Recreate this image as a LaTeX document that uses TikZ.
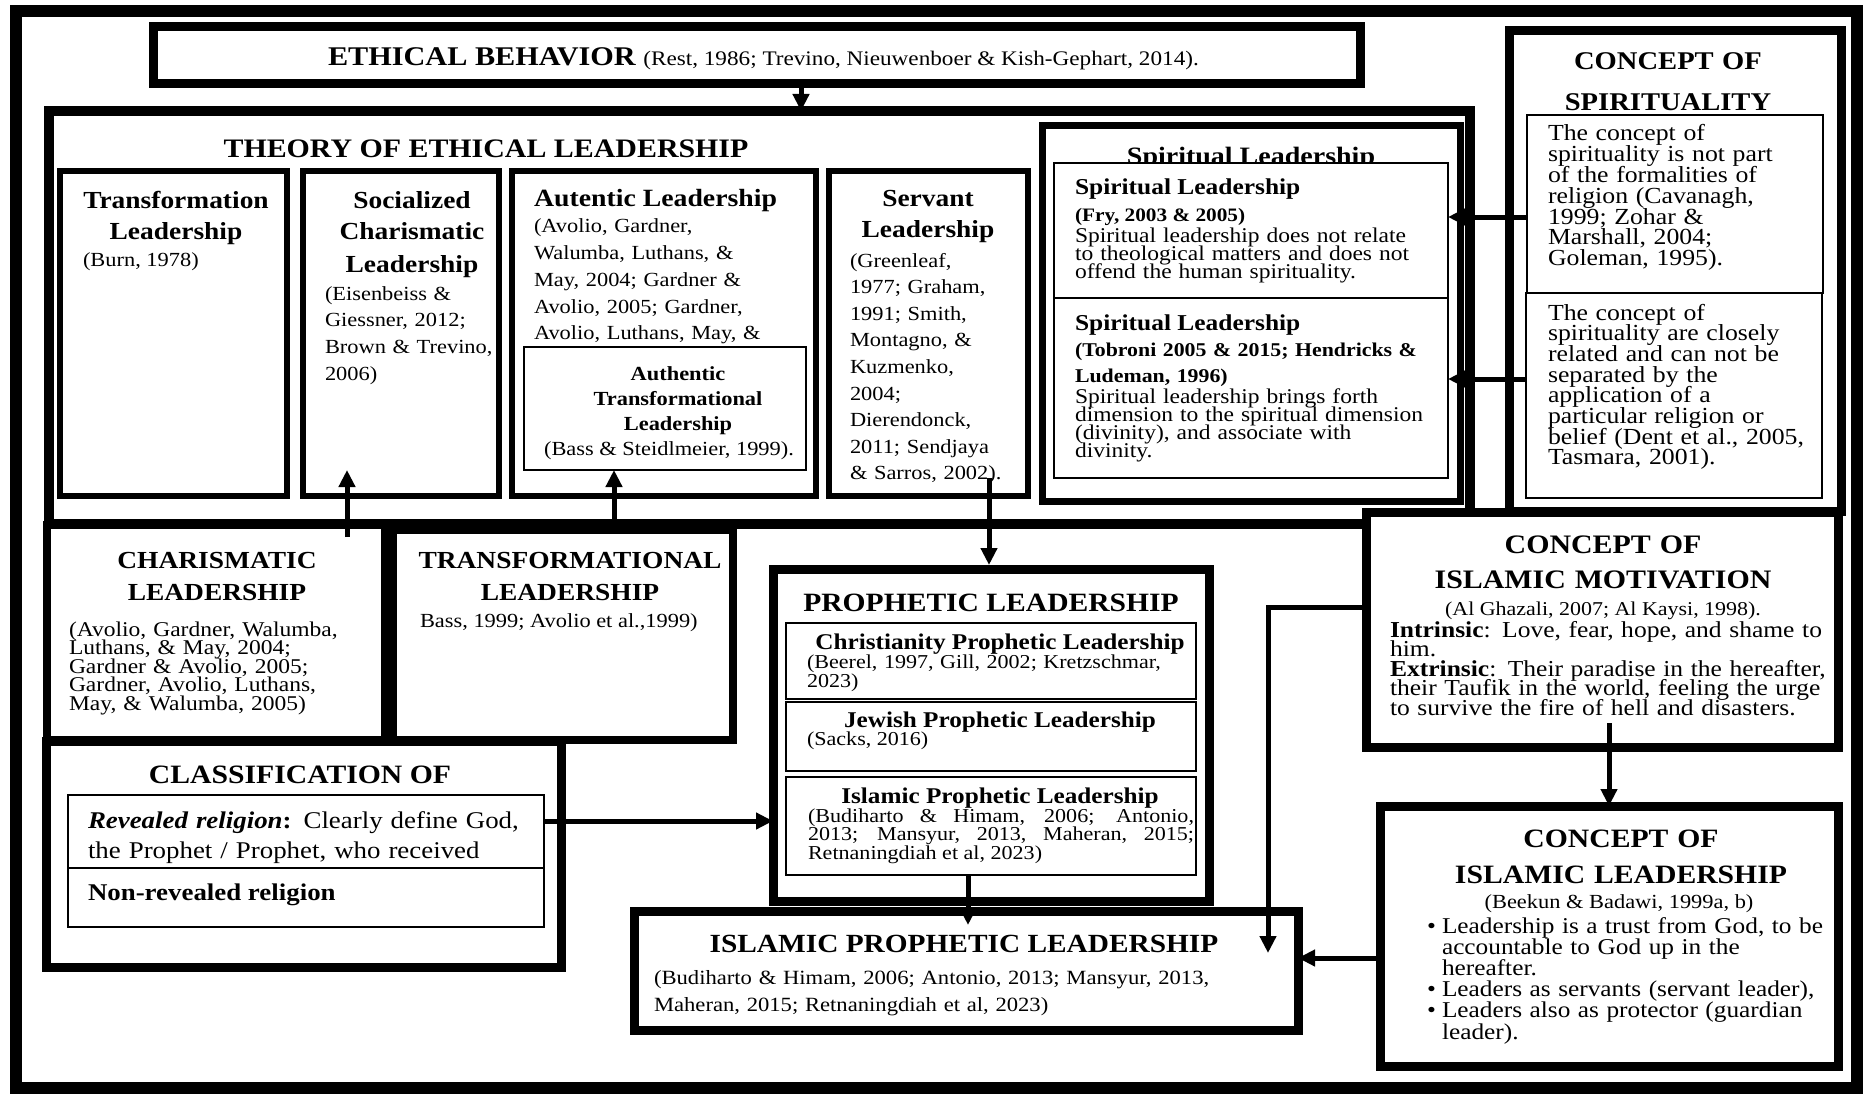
\documentclass[tikz,border=0pt]{standalone}
\usepackage{fontspec}
\setmainfont{Liberation Serif}[FakeStretch=1.12]
\usetikzlibrary{fit,arrows.meta}
\newcommand\fz[2]{\fontsize{#1}{#2}\selectfont\lineskiplimit=-100pt\lineskip=0pt\relax}
\tikzset{
  boxbase/.style={draw, fill=white, inner sep=0pt, outer sep=0pt, line join=miter},
  bigbox/.style={boxbase, line width=9pt},
  midbox/.style={boxbase, line width=6pt},
  thinbox/.style={boxbase, line width=2pt},
  framebox/.style={draw, inner sep=0pt, outer sep=0pt, line width=12pt},
  txt/.style={inner sep=0pt, outer sep=0pt, text=black},
  arr/.style={line width=5pt, -{Triangle[length=17pt,width=16pt]}, line join=miter},
}
\begin{document}
\begin{tikzpicture}[x=1pt,y=-1pt]
\fill[white] (0,0) rectangle (1865,1094);
\useasboundingbox (0,0) rectangle (1865,1094);
\node[framebox, fit={(16,11) (1857,1088)}] (frame) {};

% ---------- Ethical behaviour
\node[bigbox, fit={(153,27) (1360,84)}] (eth) {};
\node[txt, anchor=base west] (t1) at (328,66) {{\fz{27}{30}\bfseries ETHICAL BEHAVIOR }{\fz{20.7}{24}(Rest, 1986; Trevino, Nieuwenboer \& Kish-Gephart, 2014).}};

% ---------- Theory of ethical leadership
\node[boxbase, line width=10pt, fit={(49,111) (1470,524)}] (theory) {};
\node[txt, anchor=base, font={\fz{26.7}{30}\bfseries}] (t2) at (486,158) {THEORY OF ETHICAL LEADERSHIP};

\node[midbox, fit={(60,171) (287,496)}] (tl) {};
\node[txt, anchor=base, text width=220pt, align=center, font={\fz{24.5}{32}\bfseries}] (t3) at (176,208) {Transformation\\Leadership};
\node[txt, anchor=base west, font={\fz{20}{24}}] (t4) at (83,266) {(Burn, 1978)};

\node[midbox, fit={(303,171) (499,496)}] (scl) {};
\node[txt, anchor=base, text width=190pt, align=center, font={\fz{24.5}{32}\bfseries}] (t5) at (412,208) {Socialized\\Charismatic\\Leadership};
\node[txt, anchor=base west, text width=200pt, align=left, font={\fz{20}{26.7}}] (t6) at (325,300) {(Eisenbeiss \&\\Giessner, 2012;\\Brown \& Trevino,\\2006)};

\node[midbox, fit={(512,171) (816,496)}] (al) {};
\node[txt, anchor=base west, font={\fz{24.8}{30}\bfseries}] (t7) at (534,207) {Autentic Leadership};
\node[txt, anchor=base west, text width=300pt, align=left, font={\fz{20}{26.75}}] (t8) at (534,233) {(Avolio, Gardner,\\Walumba, Luthans, \&\\May, 2004; Gardner \&\\Avolio, 2005; Gardner,\\Avolio, Luthans, May, \&};
\node[thinbox, fit={(524,347) (806,470)}] (atl) {};
\node[txt, anchor=base, text width=270pt, align=center, font={\fz{20}{25}\bfseries}] (t9) at (678,380) {Authentic\\Transformational\\Leadership};
\node[txt, anchor=base, font={\fz{20}{24}}] (t10) at (669,455) {(Bass \& Steidlmeier, 1999).};

\node[midbox, fit={(829,171) (1028,496)}] (sv) {};
\node[txt, anchor=base, text width=190pt, align=center, font={\fz{24.5}{31}\bfseries}] (t11) at (928,207) {Servant\\Leadership};
\node[txt, anchor=base west, text width=190pt, align=left, font={\fz{20}{26.6}}] (t12) at (850,267) {(Greenleaf,\\1977; Graham,\\1991; Smith,\\Montagno, \&\\Kuzmenko,\\2004;\\Dierendonck,\\2011; Sendjaya\\\& Sarros, 2002).};

% ---------- Spiritual leadership
\node[boxbase, line width=7pt, fit={(1042,126) (1460,501)}] (spl) {};
\node[txt, anchor=base, font={\fz{25}{30}\bfseries}] (t13) at (1251,165) {Spiritual Leadership};
\node[thinbox, fit={(1054,163) (1448,298)}] (sl1) {};
\node[thinbox, fit={(1054,298) (1448,478)}] (sl2) {};
\node[txt, anchor=base west, font={\fz{22.7}{26}\bfseries}] (t14) at (1075,195) {Spiritual Leadership};
\node[txt, anchor=base west, font={\fz{19}{22}\bfseries}] (t15) at (1075,222) {(Fry, 2003 \& 2005)};
\node[txt, anchor=base west, text width=380pt, align=left, font={\fz{21}{18.2}}] (t16) at (1075,242) {Spiritual leadership does not relate\\to theological matters and does not\\offend the human spirituality.};
\node[txt, anchor=base west, font={\fz{22.7}{26}\bfseries}] (t17) at (1075,330) {Spiritual Leadership};
\node[txt, anchor=base west, text width=380pt, align=left, font={\fz{19.5}{26}\bfseries}] (t18) at (1075,356) {(Tobroni 2005 \& 2015; Hendricks \&\\Ludeman, 1996)};
\node[txt, anchor=base west, text width=380pt, align=left, font={\fz{21}{18}}] (t19) at (1075,403) {Spiritual leadership brings forth\\dimension to the spiritual dimension\\(divinity), and associate with\\divinity.};

% ---------- Concept of spirituality
\node[bigbox, fit={(1509,31) (1841,511)}] (cs) {};
\node[txt, anchor=base, text width=320pt, align=center, font={\fz{25.5}{41}\bfseries}] (t20) at (1668,70) {CONCEPT OF\\SPIRITUALITY};
\node[thinbox, fit={(1527,115) (1823,293)}] (spA) {};
\node[thinbox, fit={(1526,293) (1822,498)}] (spB) {};
\node[txt, anchor=base west, text width=300pt, align=left, font={\fz{23}{20.8}}] (t21) at (1548,141) {The concept of\\spirituality is not part\\of the formalities of\\religion (Cavanagh,\\1999; Zohar \&\\Marshall, 2004;\\Goleman, 1995).};
\node[txt, anchor=base west, text width=300pt, align=left, font={\fz{23}{20.7}}] (t22) at (1548,320) {The concept of\\spirituality are closely\\related and can not be\\separated by the\\application of a\\particular religion or\\belief (Dent et al., 2005,\\Tasmara, 2001).};

% ---------- Charismatic / Transformational
\node[boxbase, line width=8pt, fit={(47,525) (385,740)}] (ch) {};
\node[txt, anchor=base, text width=330pt, align=center, font={\fz{24.5}{32}\bfseries}] (t23) at (217,568) {CHARISMATIC\\LEADERSHIP};
\node[txt, anchor=base west, text width=320pt, align=left, font={\fz{21}{18.5}}] (t24) at (69,636) {(Avolio, Gardner, Walumba,\\Luthans, \& May, 2004;\\Gardner \& Avolio, 2005;\\Gardner, Avolio, Luthans,\\May, \& Walumba, 2005)};
\node[boxbase, line width=8pt, fit={(393,530) (733,740)}] (tr) {};
\node[txt, anchor=base, text width=340pt, align=center, font={\fz{24.5}{32}\bfseries}] (t25) at (570,568) {TRANSFORMATIONAL\\LEADERSHIP};
\node[txt, anchor=base west, font={\fz{20}{24}}] (t26) at (420,627) {Bass, 1999; Avolio et al.,1999)};

% ---------- Classification
\node[bigbox, fit={(46,741) (561,967)}] (cl) {};
\node[txt, anchor=base, font={\fz{26.5}{30}\bfseries}] (t27) at (300,783) {CLASSIFICATION OF};
\node[thinbox, fit={(68,795) (544,868)}] (rev) {};
\node[thinbox, fit={(68,868) (544,927)}] (nrev) {};
\node[txt, anchor=base west, text width=470pt, align=left, font={\fz{24}{30}}] (t28) at (88,828) {\textbf{\textit{Revealed religion}:} Clearly define God,\\the Prophet / Prophet, who received};
\node[txt, anchor=base west, font={\fz{24}{30}\bfseries}] (t29) at (88,900) {Non-revealed religion};

% ---------- Prophetic leadership
\node[bigbox, fit={(773,569) (1209,901)}] (pr) {};
\node[txt, anchor=base, font={\fz{26.4}{30}\bfseries}] (t30) at (991,611) {PROPHETIC LEADERSHIP};
\node[boxbase, line width=2.5pt, fit={(786,623) (1196,699)}] (ip1) {};
\node[boxbase, line width=2.5pt, fit={(786,702) (1196,771)}] (ip2) {};
\node[boxbase, line width=2.5pt, fit={(786,777) (1196,875)}] (ip3) {};
\node[txt, anchor=base, font={\fz{22.5}{26}\bfseries}] (t31) at (1000,649) {Christianity Prophetic Leadership};
\node[txt, anchor=base west, text width=390pt, align=left, font={\fz{19.7}{19}}] (t32) at (807,668) {(Beerel, 1997, Gill, 2002; Kretzschmar,\\2023)};
\node[txt, anchor=base, font={\fz{22.5}{26}\bfseries}] (t33) at (1000,727) {Jewish Prophetic Leadership};
\node[txt, anchor=base west, font={\fz{19.7}{19}}] (t34) at (807,745) {(Sacks, 2016)};
\node[txt, anchor=base, font={\fz{22.5}{26}\bfseries}] (t35) at (1000,803) {Islamic Prophetic Leadership};
\node[txt, anchor=base west, text width=386pt, align=justify, font={\fz{19.7}{18.5}}] (t36) at (808,822) {(Budiharto \& Himam, 2006; Antonio,\linebreak 2013; Mansyur, 2013, Maheran, 2015;\linebreak Retnaningdiah et al, 2023)};

% ---------- Islamic prophetic leadership
\node[bigbox, fit={(634,911) (1298,1030)}] (ipl) {};
\node[txt, anchor=base, font={\fz{26.2}{30}\bfseries}] (t37) at (964,952) {ISLAMIC PROPHETIC LEADERSHIP};
\node[txt, anchor=base west, text width=630pt, align=left, font={\fz{20.2}{27}}] (t38) at (654,984) {(Budiharto \& Himam, 2006; Antonio, 2013; Mansyur, 2013,\\Maheran, 2015; Retnaningdiah et al, 2023)};

% ---------- Islamic motivation
\node[bigbox, fit={(1366,512) (1838,747)}] (mot) {};
\node[txt, anchor=base, text width=450pt, align=center, font={\fz{26.7}{35}\bfseries}] (t39) at (1603,553) {CONCEPT OF\\ISLAMIC MOTIVATION};
\node[txt, anchor=base, font={\fz{19.6}{24}}] (t40) at (1603,615) {(Al Ghazali, 2007; Al Kaysi, 1998).};
\node[txt, anchor=base west, text width=500pt, align=left, font={\fz{22.8}{19.6}}] (t41) at (1390,637) {\textbf{Intrinsic}: Love, fear, hope, and shame to\\him.\\\textbf{Extrinsic}: Their paradise in the hereafter,\\their Taufik in the world, feeling the urge\\to survive the fire of hell and disasters.};

% ---------- Islamic leadership
\node[bigbox, fit={(1380,806) (1838,1066)}] (cil) {};
\node[txt, anchor=base, text width=440pt, align=center, font={\fz{26.5}{36}\bfseries}] (t42) at (1621,847) {CONCEPT OF\\ISLAMIC LEADERSHIP};
\node[txt, anchor=base, font={\fz{20}{24}}] (t43) at (1619,908) {(Beekun \& Badawi, 1999a, b)};
\node[txt, anchor=base west, text width=440pt, align=left, font={\fz{22.6}{21.2}}] (t44) at (1427,933) {\makebox[15pt][l]{\textbullet}Leadership is a trust from God, to be\\\hspace*{15pt}accountable to God up in the\\\hspace*{15pt}hereafter.\\\makebox[15pt][l]{\textbullet}Leaders as servants (servant leader),\\\makebox[15pt][l]{\textbullet}Leaders also as protector (guardian\\\hspace*{15pt}leader).};

% ---------- Connectors
\draw[arr] ([xshift=44.5pt]eth.south) -- ([xshift=44.5pt]eth.south |- theory.north);
\coordinate (c1s) at (347,537);
\coordinate (c1e) at (347,470);
\draw[arr] (c1s) -- (c1e);
\draw[arr] ([xshift=51pt]tr.north) -- ([xshift=51pt]tr.north |- atl.south);
\coordinate (s1) at (989,478);
\draw[arr, shorten >=4pt] (s1) -- (s1 |- pr.north);
\draw[arr] ([yshift=-13pt]spA.west) -- ([yshift=-13pt]spA.west -| sl1.east);
\draw[arr] ([yshift=16.5pt]spB.west) -- ([yshift=16.5pt]spB.west -| sl2.east);
\draw[arr] ([yshift=10.5pt]rev.east) -- ([yshift=10.5pt]rev.east -| pr.west);
\coordinate (ipin) at (968,925);
\draw[arr] (ip3.south -| ipin) -- (ipin);
\coordinate (mturn) at (1268,607);
\coordinate (mend) at (1268,953);
\draw[arr] (mot.west |- mturn) -- (mturn) -- (mend);
\coordinate (m2) at (1609,723);
\draw[arr] (m2) -- (m2 |- cil.north);
\coordinate (cy) at (0,958);
\draw[arr] (cil.west |- cy) -- (ipl.east |- cy);
\end{tikzpicture}
\end{document}
